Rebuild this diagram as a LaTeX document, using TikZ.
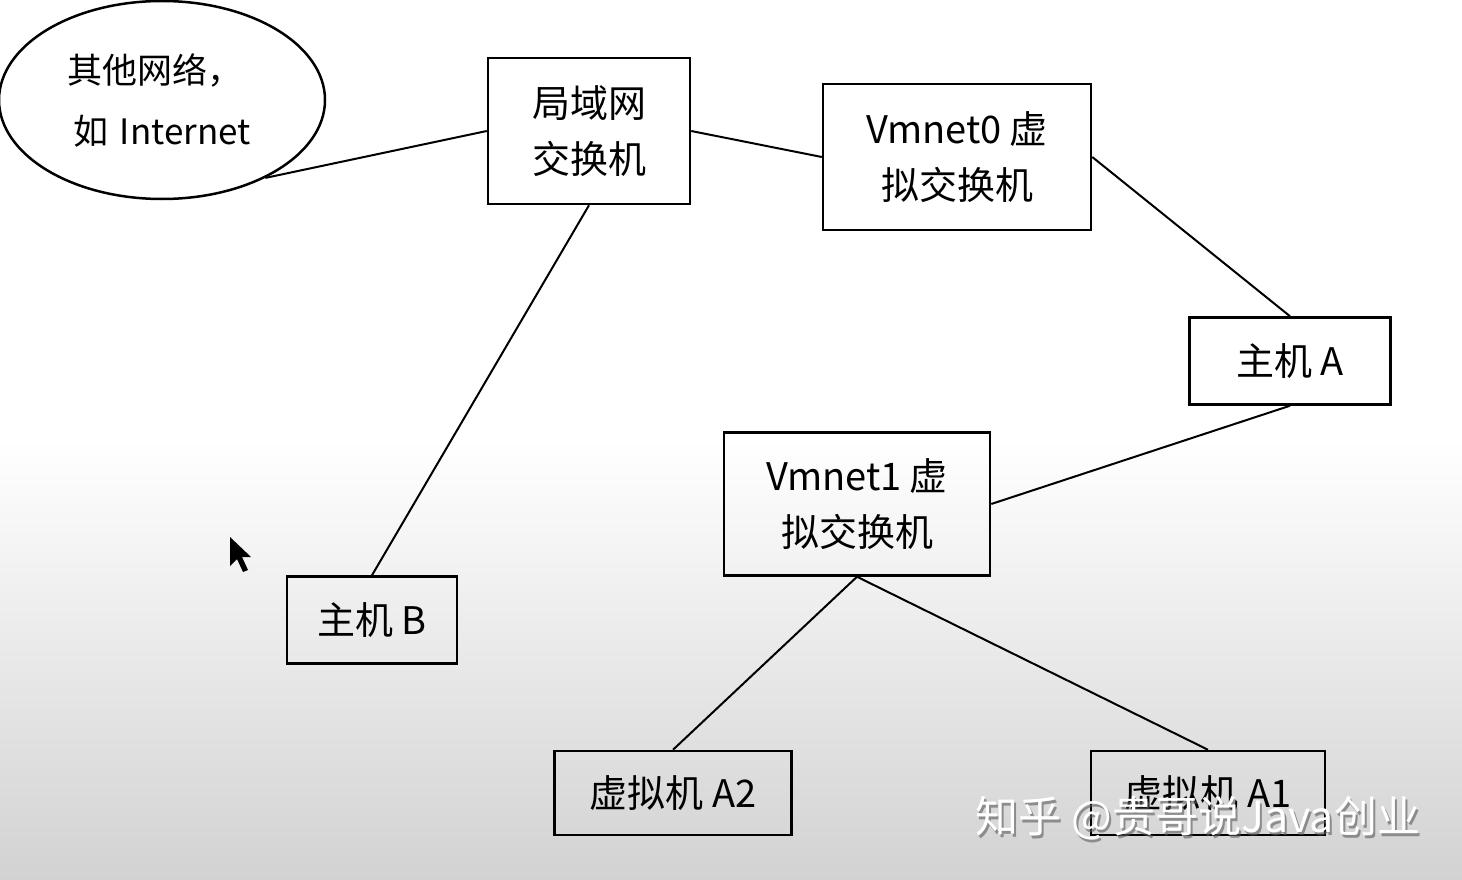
\documentclass[tikz,border=0pt]{standalone}
\usepackage{fontspec}
\setmainfont{Noto Sans CJK SC}
\usetikzlibrary{shapes.geometric}
\definecolor{bgbot}{RGB}{210,210,210}
\definecolor{wmshadow}{RGB}{90,90,90}
\tikzset{
  box/.style={draw=black, line width=2.5pt, rectangle, inner sep=0pt, align=center,
    font=\fontsize{38}{56}\selectfont},
  cloud/.style={draw=black, line width=2.5pt, ellipse, inner sep=0pt, align=center,
    font=\fontsize{35}{61}\selectfont},
  link/.style={draw=black, line width=2pt},
  wm/.style={font=\fontsize{43}{43}\selectfont, inner sep=0pt}
}
\begin{document}
\begin{tikzpicture}[x=1pt, y=-1pt]
\useasboundingbox (0,0) rectangle (1462,880);
\fill[white] (0,0) rectangle (1462,441);
\fill[top color=white, bottom color=bgbot] (0,440) rectangle (1462,880);

\node[cloud, minimum width=326pt, minimum height=198pt, text width=200pt] (net) at (162,100) {\hspace*{-14pt}其他网络，\\如 Internet};
\node[box, minimum width=202pt, minimum height=146pt] (lan) at (589,131) {局域网\\交换机};
\node[box, minimum width=268pt, minimum height=146pt] (vm0) at (957,157) {Vmnet0 虚\\拟交换机};
\node[box, minimum width=201pt, minimum height=87pt] (ha) at (1290,361) {主机 A};
\node[box, minimum width=266pt, minimum height=143pt] (vm1) at (857,504) {Vmnet1 虚\\拟交换机};
\node[box, minimum width=170pt, minimum height=87pt] (hb) at (372,620) {主机 B};
\node[box, minimum width=237pt, minimum height=84pt] (a2) at (673,793) {虚拟机 A2};
\node[box, minimum width=234pt, minimum height=84pt] (a1) at (1208,793) {虚拟机 A1};

\draw[link] (net.-37) -- (lan.west);
\draw[link] (lan.east) -- (vm0.west);
\draw[link] (lan.south) -- (hb.north);
\draw[link] (vm0.east) -- (ha.north);
\draw[link] (ha.south) -- (vm1.east);
\draw[link] (vm1.south) -- (a2.north);
\draw[link] (vm1.south) -- (a1.north);

% mouse cursor
\fill[black] (230,537) -- (230,566) -- (237,559) -- (243,572) -- (248,570) -- (242,557) -- (251,557) -- cycle;

% watermark
\node[wm, text=wmshadow, opacity=0.6] (wmsh) at (1200,821) {知乎 @贵哥说Java创业};
\node[wm, text=white] (wmk) at (1198,818) {知乎 @贵哥说Java创业};
\end{tikzpicture}
\end{document}
